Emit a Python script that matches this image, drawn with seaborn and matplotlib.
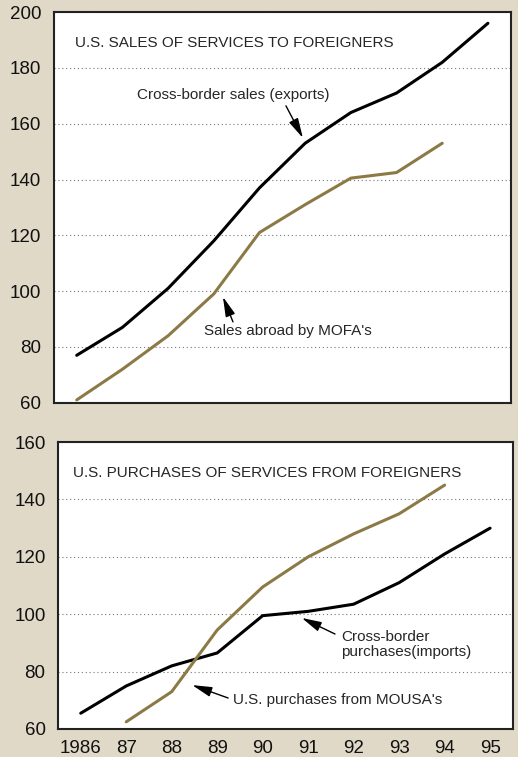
import numpy as np
import pandas as pd
import seaborn as sns
import matplotlib
matplotlib.use("Agg")
import matplotlib.pyplot as plt

# data (billions of dollars)
years = [1986, 1987, 1988, 1989, 1990, 1991, 1992, 1993, 1994, 1995]
exports = [77, 87, 101, 118, 137, 153, 164, 171, 182, 196]
mofa_years = [1986, 1987, 1988, 1989, 1990, 1991, 1992, 1993, 1994]
mofa_sales = [61, 72, 84, 99, 121, 131, 140.5, 142.5, 153]
imports = [65.5, 75, 82, 86.5, 99.5, 101, 103.5, 111, 121, 130]
mousa_years = [1987, 1988, 1989, 1990, 1991, 1992, 1993, 1994]
mousa_purchases = [62.5, 73, 94.5, 109.5, 120, 128, 135, 145]
year_labels = ["1986", "87", "88", "89", "90", "91", "92", "93", "94", "95"]

BG = "#e0d9c7"
GOLD = "#8c7a46"
ARROW = dict(arrowstyle="-|>,head_length=1.0,head_width=0.25", color="black", lw=1,
             shrinkA=0, shrinkB=0)

sns.set_theme(style="white")
plt.rcParams["font.family"] = ["Liberation Sans", "DejaVu Sans"]

top = pd.DataFrame({"year": years, "value": exports})
top2 = pd.DataFrame({"year": mofa_years, "value": mofa_sales})
bot = pd.DataFrame({"year": years, "value": imports})
bot2 = pd.DataFrame({"year": mousa_years, "value": mousa_purchases})

fig = plt.figure(figsize=(5.18, 7.57), dpi=100, facecolor=BG)
ax1 = fig.add_axes([0.104, 0.468, 0.882, 0.516])
ax2 = fig.add_axes([0.112, 0.037, 0.878, 0.379])


def style_axis(ax, ylo, yhi):
    ax.set_facecolor("white")
    ax.set_xlim(1985.5, 1995.5)
    ax.set_ylim(ylo, yhi)
    ax.set_yticks(np.arange(ylo, yhi + 1, 20))
    ax.set_xticks(np.arange(1986.5, 1995, 1))
    ax.set_xticks(years, minor=True)
    ax.tick_params(axis="x", which="major", direction="in", length=13, width=1.5,
                   color="#333333", labelbottom=False)
    ax.tick_params(axis="x", which="minor", length=0)
    ax.tick_params(axis="y", length=0, labelsize=13.5, pad=9, labelcolor="#111111")
    ax.yaxis.grid(True, linestyle=(0, (1, 2.5)), color="#777777", linewidth=0.8)
    ax.xaxis.grid(False)
    for s in ax.spines.values():
        s.set_color("#222222")
        s.set_linewidth(1.5)
    ax.set_xlabel("")
    ax.set_ylabel("")


# top panel
sns.lineplot(data=top, x="year", y="value", ax=ax1, color="black", linewidth=2.2)
sns.lineplot(data=top2, x="year", y="value", ax=ax1, color=GOLD, linewidth=2.2)
style_axis(ax1, 60, 200)

ax1.text(0.046, 0.921, "U.S. SALES OF SERVICES TO FOREIGNERS", transform=ax1.transAxes,
         fontsize=11, va="center", ha="left")
ax1.text(0.392, 0.788, "Cross-border sales (exports)", transform=ax1.transAxes,
         fontsize=11, va="center", ha="center")
ax1.annotate("", xy=(0.545, 0.678), xytext=(0.508, 0.760), xycoords="axes fraction",
             arrowprops=ARROW)
ax1.text(0.512, 0.184, "Sales abroad by MOFA's", transform=ax1.transAxes,
         fontsize=11, va="center", ha="center")
ax1.annotate("", xy=(0.370, 0.271), xytext=(0.392, 0.207), xycoords="axes fraction",
             arrowprops=ARROW)

# bottom panel
sns.lineplot(data=bot, x="year", y="value", ax=ax2, color="black", linewidth=2.2)
sns.lineplot(data=bot2, x="year", y="value", ax=ax2, color=GOLD, linewidth=2.2)
style_axis(ax2, 60, 160)
ax2.set_xticks(years, labels=year_labels, minor=True)
ax2.tick_params(axis="x", which="minor", labelsize=13.5, pad=8, labelcolor="#111111")

ax2.text(0.033, 0.892, "U.S. PURCHASES OF SERVICES FROM FOREIGNERS", transform=ax2.transAxes,
         fontsize=11, va="center", ha="left")
ax2.text(0.622, 0.296, "Cross-border\npurchases(imports)", transform=ax2.transAxes,
         fontsize=11, va="center", ha="left", linespacing=1.1)
ax2.annotate("", xy=(0.536, 0.387), xytext=(0.609, 0.331), xycoords="axes fraction",
             arrowprops=ARROW)
ax2.text(0.385, 0.101, "U.S. purchases from MOUSA's", transform=ax2.transAxes,
         fontsize=11, va="center", ha="left")
ax2.annotate("", xy=(0.295, 0.153), xytext=(0.374, 0.108), xycoords="axes fraction",
             arrowprops=ARROW)

fig.savefig("out.png", dpi=100, facecolor=BG)
